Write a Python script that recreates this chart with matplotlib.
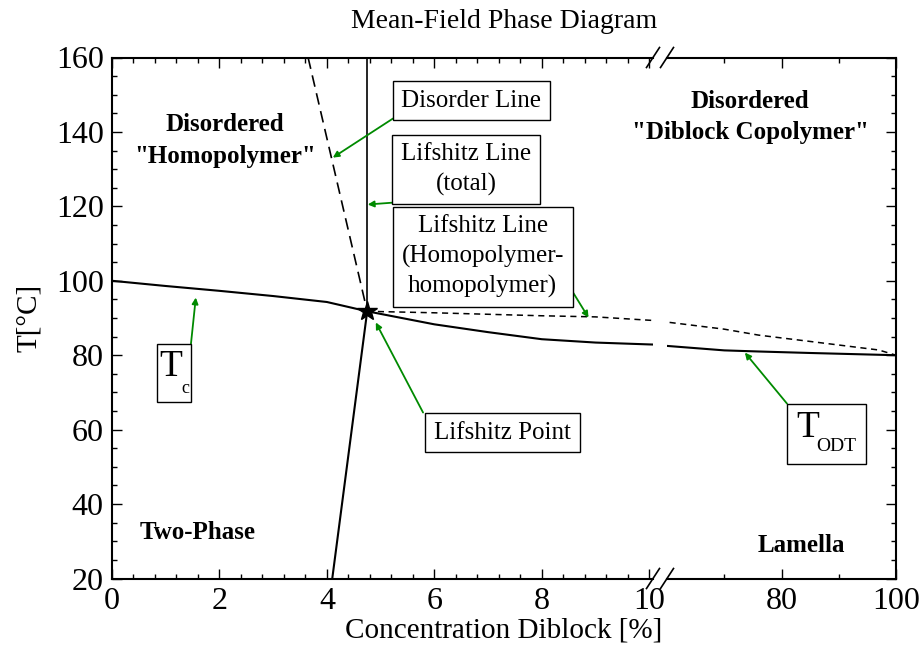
import matplotlib
matplotlib.use('Agg')
import matplotlib.pyplot as plt
from matplotlib.patches import Rectangle
from matplotlib.ticker import MultipleLocator, FixedLocator

plt.rcParams['font.family'] = ['Liberation Serif', 'DejaVu Serif']

# Lifshitz point
lp_x, lp_y = 4.75, 91.8

# T_c of the homopolymer blend (two-phase boundary)
tc_x = [0, 1, 2, 3, 4, 4.75]
tc_y = [100, 98.6, 97.3, 95.9, 94.3, 91.8]

# order-disorder transition of the diblock (solid), both axis segments
odt_x = [4.75, 5.5, 6, 7, 8, 9, 10, 10.5, 60, 70, 76, 85, 100]
odt_y = [91.8, 89.7, 88.3, 86.2, 84.3, 83.4, 82.9, 82.7, 82.5, 81.3, 81.0, 80.6, 80.0]

# Lifshitz line homopolymer-homopolymer (dashed)
hh_x = [4.75, 6, 7, 8, 9, 10, 10.5, 60, 70, 76, 85, 97, 100]
hh_y = [91.8, 91.4, 91.0, 90.6, 90.3, 89.4, 89.0, 88.9, 87.0, 85.4, 83.7, 81.4, 80.0]

# disorder line (dashed)
dis_x = [3.65, 4.75]
dis_y = [160, 91.8]

# Lifshitz line total (vertical) and lower boundary below the Lifshitz point
lt_x = [4.75, 4.75]
lt_y = [91.8, 160]
low_x = [4.75, 4.1]
low_y = [91.8, 20]

W, H = 922, 658
fig = plt.figure(figsize=(W / 100, H / 100), dpi=100)

def px_axes(x0, x1, y0, y1):
    return fig.add_axes([x0 / W, 1 - y1 / H, (x1 - x0) / W, (y1 - y0) / H])

axL = px_axes(112, 653, 57.5, 578.5)
axR = px_axes(667, 896, 57.5, 578.5)

green = '#008a00'

for ax in (axL, axR):
    ax.plot(tc_x, tc_y, color='black', lw=1.5)
    ax.plot(odt_x, odt_y, color='black', lw=1.5)
    ax.plot(hh_x, hh_y, color='black', lw=1.1, dashes=(4, 3))
    ax.plot(dis_x, dis_y, color='black', lw=1.2, dashes=(7, 4))
    ax.plot(lt_x, lt_y, color='black', lw=1.2)
    ax.plot(low_x, low_y, color='black', lw=1.5)
    ax.set_ylim(20, 160)
    ax.yaxis.set_major_locator(MultipleLocator(20))
    ax.yaxis.set_minor_locator(MultipleLocator(5))
    for s in ax.spines.values():
        s.set_linewidth(1.5)
    ax.tick_params(which='both', direction='in', top=True, width=1.0,
                   labelsize=23, pad=6)
    ax.tick_params(which='major', length=7)
    ax.tick_params(which='minor', length=3.5)

axL.plot([lp_x], [lp_y], marker='*', color='black', ms=15, zorder=5)

axL.set_xlim(0, 10.07)
axL.xaxis.set_major_locator(MultipleLocator(2))
axL.xaxis.set_minor_locator(MultipleLocator(0.4))
axL.spines['right'].set_visible(False)
axL.tick_params(which='both', right=False)

axR.set_xlim(60, 100)
axR.xaxis.set_major_locator(FixedLocator([80, 100]))
axR.xaxis.set_minor_locator(FixedLocator([70, 90]))
axR.spines['left'].set_visible(False)
axR.tick_params(which='both', left=False, right=True, labelleft=False)

# break marks on the x axis
kw = dict(color='black', lw=1.2, clip_on=False)
for ax, xb in ((axL, 1.0), (axR, 0.0)):
    wpx = ax.get_position().width * W
    hpx = ax.get_position().height * H
    dx, dy = 6.5 / wpx, 10 / hpx
    for yb in (0.0, 1.0):
        ax.plot([xb - dx, xb + dx], [yb - dy, yb + dy], transform=ax.transAxes, **kw)

axL.set_ylabel('T[°C]', fontsize=21, labelpad=10)
fig.text((112 + 896) / 2 / W, 1 - 630 / H, 'Concentration Diblock [%]',
         fontsize=21, ha='center', va='center')
fig.text((112 + 896) / 2 / W, 1 - 21 / H, 'Mean-Field Phase Diagram',
         fontsize=20, ha='center', va='center')

# region labels
bold = dict(fontsize=18, fontweight='bold', ha='center', va='center', linespacing=1.45)
axL.text(2.1, 137.7, 'Disordered\n"Homopolymer"', **bold)
axL.text(1.6, 32.4, 'Two-Phase', **bold)
axR.text(74.5, 143.9, 'Disordered\n"Diblock Copolymer"', **bold)
axR.text(83.4, 28.9, 'Lamella', **bold)

# labelled boxes with green arrows
box = dict(boxstyle='square,pad=0.35', fc='white', ec='black', lw=1.0)
arrow = dict(arrowstyle='-|>', color=green, lw=1.3, mutation_scale=9,
             shrinkA=0, shrinkB=0)

def label(ax, text, xy_text, start, target):
    ax.text(*xy_text, text, fontsize=18, ha='center', va='center',
            bbox=box, zorder=6, linespacing=1.4)
    ax.annotate('', xy=target, xytext=start, arrowprops=arrow, zorder=4)

label(axL, 'Disorder Line', (6.69, 148.4), (5.23, 143.6), (4.11, 133.1))
label(axL, 'Lifshitz Line\n(total)', (6.59, 129.9), (5.23, 121.0), (4.76, 120.5))
label(axL, 'Lifshitz Line\n(Homopolymer-\nhomopolymer)', (6.9, 106.5),
      (8.58, 96.9), (8.87, 90.1))
label(axL, 'Lifshitz Point', (7.27, 59.2), (5.79, 64.6), (4.91, 88.8))

# T_c box
axL.add_patch(Rectangle((0.837, 67.3), 1.47 - 0.837, 83.1 - 67.3, fc='white',
                        ec='black', lw=1.0, zorder=6))
axL.text(1.1, 76.8, 'T', fontsize=27, ha='center', va='center', zorder=7)
axL.text(1.36, 71.0, 'c', fontsize=13, ha='center', va='center', zorder=7)
axL.annotate('', xy=(1.56, 95.5), xytext=(1.47, 83.1), arrowprops=arrow, zorder=4)

# T_ODT box
axR.add_patch(Rectangle((80.96, 50.9), 94.76 - 80.96, 67.0 - 50.9, fc='white',
                        ec='black', lw=1.0, zorder=6, clip_on=False))
axR.text(84.5, 60.6, 'T', fontsize=27, ha='center', va='center', zorder=7)
axR.text(89.6, 55.4, 'ODT', fontsize=14, ha='center', va='center', zorder=7)
axR.annotate('', xy=(73.6, 80.7), xytext=(80.96, 67.0), arrowprops=arrow, zorder=4)

fig.savefig('out.png', dpi=100, facecolor='white')
